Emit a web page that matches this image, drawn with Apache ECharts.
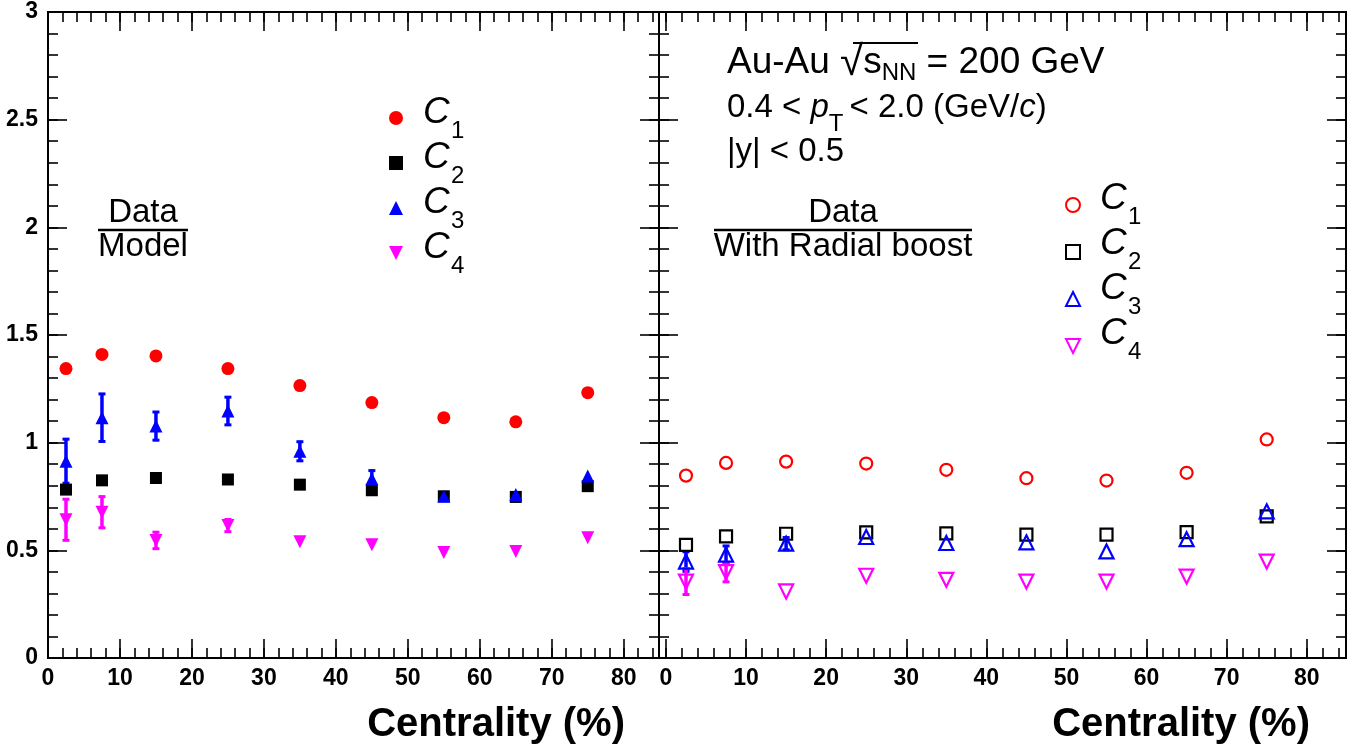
<!DOCTYPE html>
<html><head><meta charset="utf-8">
<script src="https://cdn.jsdelivr.net/npm/echarts@6/dist/echarts.min.js"></script>
<style>html,body{margin:0;padding:0;background:#fff}#c{width:1363px;height:753px}</style>
</head><body><div id="c"></div>
<script>
// ---- data ----
const centrality = [2.5, 7.5, 15, 25, 35, 45, 55, 65, 75];

// Data / Model (left panel, filled markers)
const c1Model = [1.344, 1.41, 1.403, 1.344, 1.265, 1.186, 1.116, 1.097, 1.232];
const c2Model = [0.782, 0.825, 0.836, 0.829, 0.805, 0.779, 0.751, 0.748, 0.798];
const c3Model = [0.914, 1.116, 1.077, 1.147, 0.96, 0.833, 0.751, 0.759, 0.845];
const c3ModelErr = [0.107, 0.115, 0.07, 0.069, 0.049, 0.042, 0, 0, 0];
const c4Model = [0.642, 0.677, 0.546, 0.615, 0.54, 0.526, 0.49, 0.495, 0.559];
const c4ModelErr = [0.1, 0.077, 0.043, 0.033, 0, 0, 0, 0, 0];

// Data / With Radial boost (right panel, open markers)
const c1Radial = [0.847, 0.906, 0.912, 0.903, 0.874, 0.835, 0.824, 0.86, 1.015];
const c2Radial = [0.525, 0.565, 0.577, 0.583, 0.579, 0.573, 0.573, 0.585, 0.658];
const c3Radial = [0.448, 0.48, 0.531, 0.562, 0.534, 0.537, 0.495, 0.552, 0.681];
const c3RadialErr = [0.05, 0.045, 0.033, 0, 0, 0, 0, 0, 0];
const c4Radial = [0.355, 0.399, 0.309, 0.382, 0.363, 0.355, 0.355, 0.378, 0.448];
const c4RadialErr = [0.065, 0.05, 0, 0, 0, 0, 0, 0, 0];

// ticks
const xMajorTicks = [0, 10, 20, 30, 40, 50, 60, 70, 80];
const yMajorTicks = [0, 0.5, 1, 1.5, 2, 2.5, 3];
const xMinorTicks = []; for (let v = 0; v <= 84; v += 2) xMinorTicks.push(v);
const yMinorTicks = []; for (let k = 0; k <= 30; k++) yMinorTicks.push(+(k / 10).toFixed(1));

const legendSubs = ['1', '2', '3', '4'];
const xTitle = 'Centrality (%)';

// ---- chart ----
const FONT = "'Liberation Sans', Arial, Helvetica, sans-serif";
const RED = '#ff0000', BLACK = '#000000', BLUE = '#0000ff', MAG = '#ff00ff';
const DOWN_TRI = 'path://M0,0L10,0L5,10Z';

function xAxes(grid, min, max) {
  const base = {gridIndex: grid, type: 'value', min: min, max: max, splitLine: {show: false},
    axisLine: {show: true, onZero: false, lineStyle: {color: '#000', width: 2}}};
  const major = {inside: true, length: 19, customValues: xMajorTicks, lineStyle: {color: '#000', width: 1.6}};
  const minor = {inside: true, length: 10, customValues: xMinorTicks, lineStyle: {color: '#000', width: 1.6}};
  return [
    Object.assign({}, base, {position: 'bottom', axisTick: major,
      axisLabel: {customValues: xMajorTicks, fontFamily: FONT, fontWeight: 'bold', fontSize: 23, color: '#000', margin: 9}}),
    Object.assign({}, base, {position: 'bottom', axisTick: minor, axisLabel: {show: false}}),
    Object.assign({}, base, {position: 'top', axisTick: major, axisLabel: {show: false}}),
    Object.assign({}, base, {position: 'top', axisTick: minor, axisLabel: {show: false}})
  ];
}
function yAxes(grid, labels) {
  const base = {gridIndex: grid, type: 'value', min: 0, max: 3, splitLine: {show: false},
    axisLine: {show: true, onZero: false, lineStyle: {color: '#000', width: 2}}};
  const major = {inside: true, length: 19, customValues: yMajorTicks, lineStyle: {color: '#000', width: 1.6}};
  const minor = {inside: true, length: 10, customValues: yMinorTicks, lineStyle: {color: '#000', width: 1.6}};
  return [
    Object.assign({}, base, {position: 'left', axisTick: major,
      axisLabel: labels ? {customValues: yMajorTicks, fontFamily: FONT, fontWeight: 'bold', fontSize: 23, color: '#000', margin: 10} : {show: false}}),
    Object.assign({}, base, {position: 'left', axisTick: minor, axisLabel: {show: false}}),
    Object.assign({}, base, {position: 'right', axisTick: major, axisLabel: {show: false}}),
    Object.assign({}, base, {position: 'right', axisTick: minor, axisLabel: {show: false}})
  ];
}

function pts(ys) { return centrality.map((x, i) => [x, ys[i]]); }

function scatter(name, ys, symbol, color, open, axisIdx) {
  return {
    type: 'scatter', name: name, xAxisIndex: axisIdx, yAxisIndex: axisIdx, z: 5,
    symbol: symbol.sym, symbolSize: symbol.size,
    itemStyle: open ? {color: 'rgba(255,255,255,0)', borderColor: color, borderWidth: 2.2, opacity: 1}
                    : {color: color, opacity: 1},
    emphasis: {disabled: true},
    data: pts(ys)
  };
}

function errBars(name, ys, errs, color, axisIdx) {
  return {
    type: 'custom', name: name, xAxisIndex: axisIdx, yAxisIndex: axisIdx, z: 3, silent: true,
    encode: {x: 0, y: 1},
    data: centrality.map((x, i) => [x, ys[i], errs[i]]).filter(d => d[2] > 0),
    renderItem: function (params, api) {
      const x = api.value(0), y = api.value(1), e = api.value(2);
      const t = api.coord([x, y + e]), b = api.coord([x, y - e]);
      const hw = 3.5;
      return {type: 'group', children: [
        {type: 'line', shape: {x1: t[0], y1: t[1], x2: b[0], y2: b[1]}, style: {stroke: color, lineWidth: 3.5}},
        {type: 'line', shape: {x1: t[0] - hw, y1: t[1] + 1, x2: t[0] + hw, y2: t[1] + 1}, style: {stroke: color, lineWidth: 3}},
        {type: 'line', shape: {x1: b[0] - hw, y1: b[1] - 1, x2: b[0] + hw, y2: b[1] - 1}, style: {stroke: color, lineWidth: 3}}
      ]};
    }
  };
}

const SYM = {
  c1: {sym: 'circle', size: 13},
  c2: {sym: 'rect', size: 12},
  c3: {sym: 'triangle', size: 13},
  c4: {sym: DOWN_TRI, size: 13}
};
const SYMo = {
  c1: {sym: 'circle', size: 12},
  c2: {sym: 'rect', size: 12},
  c3: {sym: 'triangle', size: 14},
  c4: {sym: DOWN_TRI, size: 14}
};

const leftNames = ['C1 Model', 'C2 Model', 'C3 Model', 'C4 Model'];
const rightNames = ['C1 Radial', 'C2 Radial', 'C3 Radial', 'C4 Radial'];

const series = [
  errBars('c3ModelErr', c3Model, c3ModelErr, BLUE, 0),
  errBars('c4ModelErr', c4Model, c4ModelErr, MAG, 0),
  scatter(leftNames[0], c1Model, SYM.c1, RED, false, 0),
  scatter(leftNames[1], c2Model, SYM.c2, BLACK, false, 0),
  scatter(leftNames[2], c3Model, SYM.c3, BLUE, false, 0),
  scatter(leftNames[3], c4Model, SYM.c4, MAG, false, 0),
  errBars('c3RadialErr', c3Radial, c3RadialErr, BLUE, 4),
  errBars('c4RadialErr', c4Radial, c4RadialErr, MAG, 4),
  scatter(rightNames[0], c1Radial, SYMo.c1, RED, true, 4),
  scatter(rightNames[1], c2Radial, SYMo.c2, BLACK, true, 4),
  scatter(rightNames[2], c3Radial, SYMo.c3, BLUE, true, 4),
  scatter(rightNames[3], c4Radial, SYMo.c4, MAG, true, 4)
];

const ROW = 45, ICON = 14;
function legend(names, iconCx, firstRowCy) {
  return {
    data: names, orient: 'vertical', left: iconCx - ICON / 2, top: firstRowCy - ICON / 2,
    itemWidth: ICON, itemHeight: ICON, itemGap: ROW - ICON, padding: 0,
    selectedMode: false, formatter: function () { return ''; },
    textStyle: {fontSize: 1}
  };
}

const txt = (x, y, text, font, align, rich) => ({
  type: 'text', x: x, y: y, z: 100, silent: true,
  style: {text: text, fill: '#000', font: font, textAlign: align || 'left', textVerticalAlign: 'middle', rich: rich || undefined}
});
const hline = (x1, x2, y, w) => ({type: 'line', z: 100, silent: true, shape: {x1: x1, y1: y, x2: x2, y2: y}, style: {stroke: '#000', lineWidth: w || 2}});

// legend labels C_n
function legendLabels(textX, firstRowCy) {
  const out = [];
  const cFont = 'italic 37px ' + FONT, sFont = '24px ' + FONT;
  legendSubs.forEach((s, k) => {
    const cy = firstRowCy + k * ROW;
    out.push(txt(textX, cy - 5, 'C', cFont));
    out.push(txt(textX + 28, cy + 13, s, sFont));
  });
  return out;
}

// top annotation
const F1 = '37px ' + FONT, FR = '42px ' + FONT, FS = '24px ' + FONT;
const richTop = {
  n: {font: F1, fill: '#000', lineHeight: 20},
  r: {font: FR, fill: '#000', lineHeight: 20},
  sub: {font: FS, fill: '#000', lineHeight: 20, padding: [20, 0, 0, 0]}
};
const X0 = 727;

const F2 = '33px ' + FONT;
const richPt = {
  n: {font: F2, fill: '#000', lineHeight: 20},
  i: {font: 'italic ' + F2, fill: '#000', lineHeight: 20},
  sub: {font: '24px ' + FONT, fill: '#000', lineHeight: 20, padding: [32, 6, 0, 0]}
};

const graphic = [
  txt(143, 213, 'Data', '33px ' + FONT, 'center'),
  hline(98, 188, 230, 2.5),
  txt(143, 247, 'Model', '33px ' + FONT, 'center'),
  txt(843, 213, 'Data', '33px ' + FONT, 'center'),
  hline(714, 972, 230, 2.5),
  txt(843, 247, 'With Radial boost', '33px ' + FONT, 'center'),
  txt(X0, 63, '{n|Au-Au }{r|√}{n|s}{sub|NN}{n| = 200 GeV}', F1, 'left', richTop),
  hline(853, 918, 43, 2),
  txt(X0, 108, '{n|0.4 < }{i|p}{sub|T}{n|< 2.0 (GeV/}{i|c}{n|)}', F2, 'left', richPt),
  txt(X0, 152, '|y| < 0.5', F2),
  txt(625, 725, xTitle, 'bold 40px ' + FONT, 'right'),
  txt(1310, 725, xTitle, 'bold 40px ' + FONT, 'right')
].concat(legendLabels(423, 118), legendLabels(1100, 204));

const chart = echarts.init(document.getElementById('c'), null, {renderer: 'canvas'});
chart.setOption({
  backgroundColor: '#fff',
  animation: false,
  textStyle: {fontFamily: FONT},
  grid: [
    {left: 48, top: 12, width: 611, height: 646},
    {left: 659, top: 12, width: 687, height: 646}
  ],
  xAxis: xAxes(0, 0, 84.9).concat(xAxes(1, -0.87, 84.9)),
  yAxis: yAxes(0, true).concat(yAxes(1, false)),
  legend: [
    legend(leftNames, 396, 118),
    legend(rightNames, 1072, 204)
  ],
  graphic: graphic,
  series: series
});
</script></body></html>
